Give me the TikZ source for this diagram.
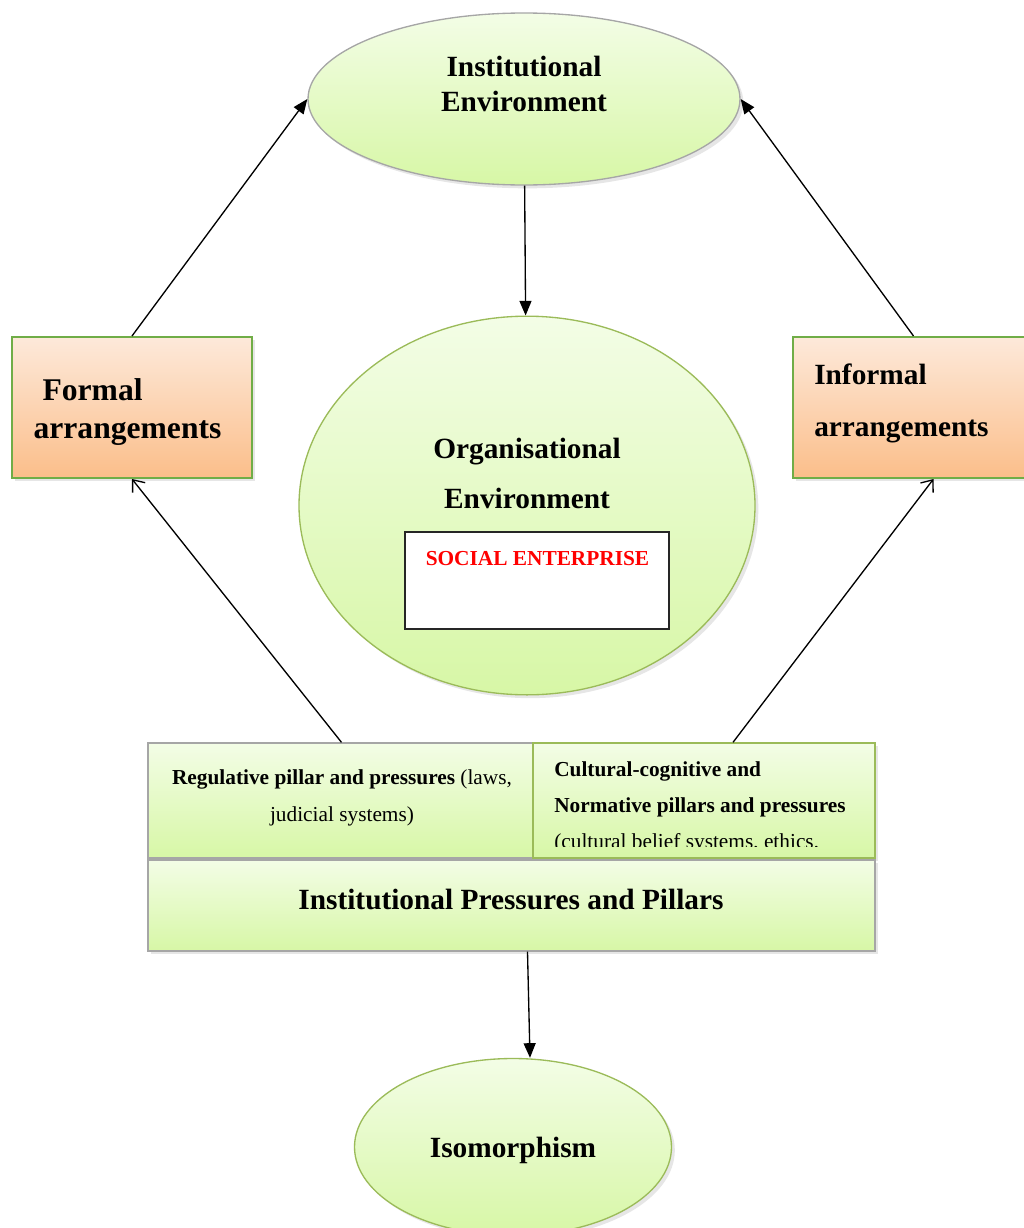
\documentclass[tikz,border=0pt]{standalone}
\usepackage{fontspec}
\setmainfont{Liberation Serif}
\usetikzlibrary{shapes.geometric,arrows.meta,shadows,calc}
\definecolor{leafgreen}{HTML}{9BBB59}
\definecolor{boxgreen}{HTML}{70AD47}
\definecolor{palegreen}{HTML}{F3FDE6}
\definecolor{limegreen}{HTML}{D7F7A6}
\definecolor{paleorange}{HTML}{FDE9DA}
\definecolor{peach}{HTML}{FBBE8A}
\definecolor{rimgray}{HTML}{A6A6A6}

\begin{document}
\begin{tikzpicture}[x=0.75pt,y=-0.75pt,
  softshadow/.style={drop shadow={shadow xshift=2.5pt,shadow yshift=-2.5pt,opacity=0.2}},
  envel/.style={ellipse,draw=leafgreen,line width=1pt,top color=palegreen,bottom color=limegreen,softshadow},
  arrbox/.style={rectangle,draw=boxgreen,line width=1.5pt,top color=paleorange,bottom color=peach,softshadow},
  pillar/.style={rectangle,draw=rimgray,line width=1pt,top color=palegreen,bottom color=limegreen,softshadow},
  headtxt/.style={inner sep=0pt,font=\bfseries\fontsize{22}{26.25}\selectfont},
  notetxt/.style={inner sep=0pt,font=\fontsize{16}{27.75}\selectfont},
  flow/.style={-{Triangle[length=11pt,width=9pt]},line width=1pt},
  feed/.style={-{Straight Barb[length=7.5pt,width=12pt]},line width=1pt}]
\clip (0,0) rectangle (1024,1228);
% shapes
\node[envel,draw=rimgray,minimum width=324pt,minimum height=129pt] (ie) at (524,99) {};
\node[envel,minimum width=342pt,minimum height=284pt] (oe) at (527,505.5) {};
\node[draw=black!85,fill=white,line width=0.8pt,minimum width=198pt,minimum height=72.75pt] (se) at (537,580.5) {};
\node[arrbox,minimum width=180pt,minimum height=105.75pt] (formal) at (132,407.5) {};
\node[arrbox,minimum width=180.75pt,minimum height=105.75pt] (informal) at (913.5,407.5) {};
\node[pillar,minimum width=290.25pt,minimum height=86.25pt] (reg) at (341.5,800.5) {};
\node[pillar,draw=leafgreen,minimum width=256.5pt,minimum height=86.25pt] (cult) at (704,800.5) {};
\node[pillar,minimum width=545.25pt,minimum height=68.25pt] (press) at (511.5,905.5) {};
\node[envel,minimum width=237.75pt,minimum height=132.75pt] (iso) at (513,1147) {};
% texts
\node[headtxt,align=center] (ietxt) at (524,84) {Institutional\\Environment};
\node[headtxt,align=center,font=\bfseries\fontsize{22}{37.5}\selectfont] (oetxt) at (527,473) {Organisational\\Environment};
\node[inner sep=0pt,text=red,font=\bfseries\fontsize{16}{19}\selectfont] (setxt) at (537.5,558.5) {SOCIAL ENTERPRISE};
\node[headtxt,align=left,font=\bfseries\fontsize{23.7}{28.5}\selectfont] (formaltxt) at (127.5,412) {\hspace*{6.75pt}Formal\\arrangements};
\node[headtxt,align=left,anchor=west,font=\bfseries\fontsize{22}{39}\selectfont] (informaltxt) at (814,403) {Informal\\arrangements};
\node[notetxt,align=center] (regtxt) at (342,798) {\textbf{Regulative pillar and pressures} (laws,\\judicial systems)};
\begin{scope}
\clip (533,743) rectangle (875,846);
\node[notetxt,align=left,anchor=north west,font=\fontsize{16}{27}\selectfont] (culttxt) at (554,761.5) {\textbf{Cultural-cognitive and}\\\textbf{Normative pillars and pressures}\\(cultural belief systems, ethics,};
\end{scope}
\node[headtxt] (presstxt) at (511,899) {Institutional Pressures and Pillars};
\node[headtxt] (isotxt) at (513,1150) {Isomorphism};
% connectors
\path[flow] (ie) edge (oe)
            (formal.north) edge (ie.west)
            (informal.north) edge (ie.east)
            ($(press.south)+(16,0)$) edge ($(iso.north)+(17,0)$);
\path[feed] (reg.north) edge (formal.south)
            ($(cult.north)+(29,0)$) edge ($(informal.south)+(20,0)$);
\end{tikzpicture}
\end{document}
